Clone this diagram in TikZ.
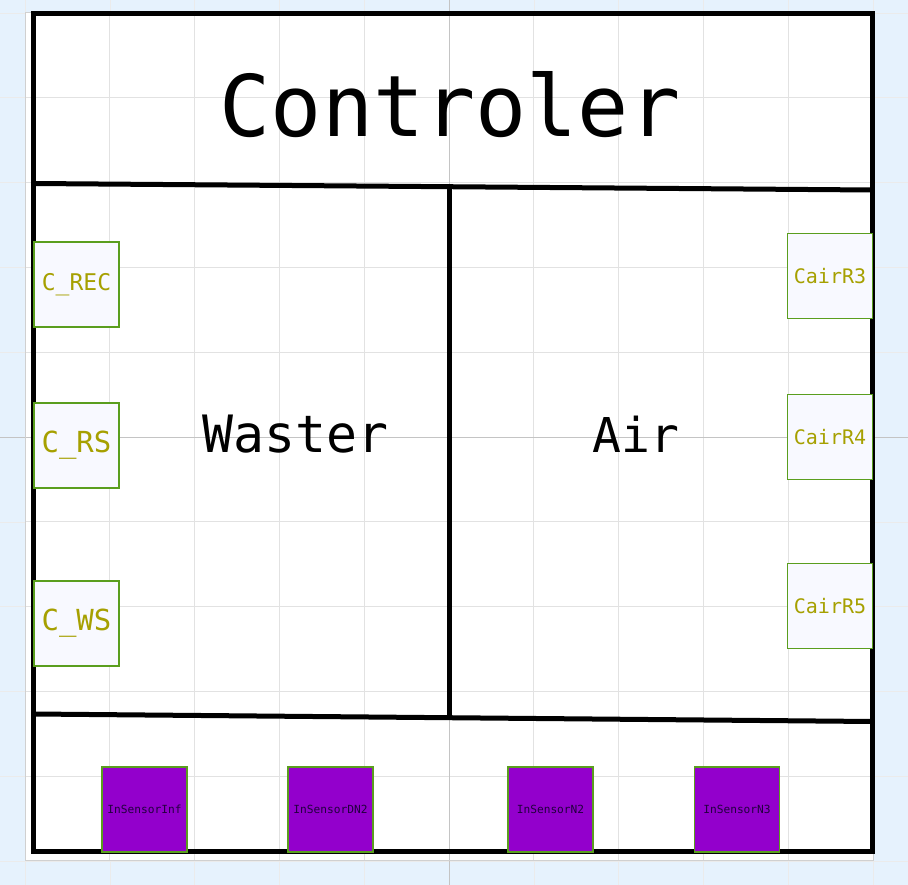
\documentclass[tikz,border=0pt]{standalone}
\usepackage{fontspec}
\setmonofont{DejaVu Sans Mono}
\usepackage{tikz}
\usetikzlibrary{positioning}

\definecolor{canvasblue}{HTML}{E6F2FD}
\definecolor{gridgray}{HTML}{E2E2E2}
\definecolor{axisgray}{HTML}{C4C4C4}
\definecolor{boxgreen}{HTML}{5A9E1E}
\definecolor{boxfill}{HTML}{F8F9FF}
\definecolor{labelolive}{HTML}{A6A000}
\definecolor{sensorpurple}{HTML}{9300CC}
\definecolor{sensortext}{HTML}{22003F}

\tikzset{
  wall/.style={line width=5pt, black},
  actuator/.style={draw=boxgreen, line width=1.2pt, fill=boxfill, inner sep=0pt,
    minimum size=85pt, text=labelolive},
  sensor/.style={draw=boxgreen, line width=1.2pt, fill=sensorpurple, inner sep=0pt,
    minimum size=85pt, text=sensortext, font=\ttfamily\fontsize{11.2}{11}\selectfont},
  zone/.style={anchor=base, inner sep=0pt, font=\ttfamily}
}

\begin{document}
\begin{tikzpicture}[x=1pt, y=-1pt, node distance=161pt, on grid]
  \useasboundingbox (0,0) rectangle (908,885);
  % canvas
  \fill[canvasblue] (0,0) rectangle (908,885);
  \foreach \k in {0,...,10} {
    \draw[gridgray!70, line width=0.6pt] ({25+84.8*\k},0) -- ({25+84.8*\k},885);
    \draw[gridgray!70, line width=0.6pt] (0,{13+84.8*\k}) -- (908,{13+84.8*\k});
  }
  \fill[white] (25,13) rectangle (873,860);
  \foreach \k in {1,...,9} {
    \draw[gridgray, line width=0.8pt] ({25+84.8*\k},13) -- ({25+84.8*\k},860);
    \draw[gridgray, line width=0.8pt] (25,{13+84.8*\k}) -- (873,{13+84.8*\k});
  }
  \draw[axisgray, line width=0.8pt] (449,0) -- (449,885);
  \draw[axisgray, line width=0.8pt] (0,437) -- (908,437);
  \draw[axisgray!80, line width=1pt] (25,13) rectangle (873,860);

  % walls
  \draw[wall] (33.5,13.5) rectangle (872,851.5);
  \draw[wall] (33.5,183.5) -- (872,190);
  \draw[wall] (33.5,714) -- (872,721.5);
  \draw[wall] (449,186.5) -- (449,717.5);

  % zones
  \node[zone, font=\ttfamily\fontsize{85}{85}\selectfont] (controler) at (450,137) {Controler};
  \node[zone, font=\ttfamily\fontsize{51.5}{52}\selectfont] (waster) at (296,452) {Waster};
  \node[zone, font=\ttfamily\fontsize{48}{48}\selectfont] (air) at (636,452) {Air};

  % actuators, left side
  \node[actuator, font=\ttfamily\fontsize{23}{23}\selectfont] (crec) at (76.5,284.5) {C\_REC};
  \node[actuator, font=\ttfamily\fontsize{29}{29}\selectfont] (crs) [below=of crec] {C\_RS};
  \node[actuator, font=\ttfamily\fontsize{29}{29}\selectfont] (cws) [below=178pt of crs] {C\_WS};

  % actuators, right side
  \node[actuator, font=\ttfamily\fontsize{20}{20}\selectfont] (cairr3) at (830,276) {CairR3};
  \node[actuator, font=\ttfamily\fontsize{20}{20}\selectfont] (cairr4) [below=of cairr3] {CairR4};
  \node[actuator, font=\ttfamily\fontsize{20}{20}\selectfont] (cairr5) [below=169pt of cairr4] {CairR5};

  % sensors
  \node[sensor] (insensorinf) at (144.5,809.5) {InSensorInf};
  \node[sensor] (insensordn2) [right=186pt of insensorinf] {InSensorDN2};
  \node[sensor] (insensorn2) [right=220pt of insensordn2] {InSensorN2};
  \node[sensor] (insensorn3) [right=186.5pt of insensorn2] {InSensorN3};
\end{tikzpicture}
\end{document}
